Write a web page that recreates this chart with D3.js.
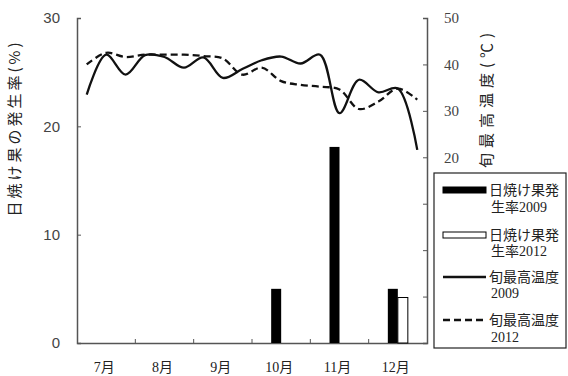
<!DOCTYPE html>
<html>
<head>
<meta charset="utf-8">
<script src="https://cdn.jsdelivr.net/npm/d3@7"></script>
<style>
    body { margin: 0; background: #fff; }
    svg { display: block; }
</style>
</head>
<body>
<div id="chart"></div>
<script>
// Data
const months = ['7月', '8月', '9月', '10月', '11月', '12月'];
const sunburn2009 = [0, 0, 0, 5.0, 18.1, 5.0];
const sunburn2012 = [0, 0, 0, 0, 0, 4.2];

// 旬 (10-day periods), 3 per month
const periods = d3.range(18).map(i => months[Math.floor(i / 3)] + ['上', '中', '下'][i % 3]);
const temp2009 = [33.5, 42.1, 37.8, 42.0, 41.6, 39.3, 41.5, 37.1, 39.0, 40.9, 41.7, 40.2, 42.1, 29.5, 36.7, 34.0, 34.8, 21.6];
const temp2012 = [40.0, 42.5, 41.6, 42.1, 42.1, 42.1, 41.8, 41.3, 37.8, 39.3, 36.4, 35.6, 35.2, 34.6, 30.4, 32.0, 34.8, 32.4];

const leftTicks = [0, 10, 20, 30];
const rightTicks = [-20, -10, 0, 10, 20, 30, 40, 50];

const width = 568, height = 376;
const plot = { left: 77, right: 427, top: 18, bottom: 343 };

const svg = d3.select('#chart').append('svg')
    .attr('width', width)
    .attr('height', height);

// Scales
const x = d3.scaleBand().domain(months).range([plot.left, plot.right]).padding(0);
const xSub = d3.scaleBand().domain(['2009', '2012'])
    .range([x.bandwidth() / 2 - 10, x.bandwidth() / 2 + 10]);
const xp = d3.scalePoint().domain(periods).range([plot.left, plot.right]).padding(0.5);
const y = d3.scaleLinear().domain([0, 30]).range([plot.bottom, plot.top]);
const y2 = d3.scaleLinear().domain([-20, 50]).range([plot.bottom, plot.top]);

const axisColor = '#555';

// Left axis
const gl = svg.append('g')
    .attr('transform', `translate(${plot.left},0)`)
    .call(d3.axisRight(y).tickValues(leftTicks).tickSize(4).tickFormat(''));
gl.select('.domain').attr('stroke', axisColor).attr('stroke-width', 1.5);
gl.selectAll('.tick line').attr('stroke', axisColor);
leftTicks.forEach(t => {
    svg.append('text')
        .attr('x', 60).attr('y', y(t)).attr('dy', '0.35em')
        .attr('text-anchor', 'end')
        .attr('font-family', 'Liberation Sans, sans-serif')
        .attr('font-size', 15).attr('fill', '#444')
        .text(t);
});

// Right axis
const gr = svg.append('g')
    .attr('transform', `translate(${plot.right},0)`)
    .call(d3.axisLeft(y2).tickValues(rightTicks).tickSize(4).tickFormat(''));
gr.select('.domain').attr('stroke', axisColor).attr('stroke-width', 1.5);
gr.selectAll('.tick line').attr('stroke', axisColor);
rightTicks.filter(t => t >= 20).forEach(t => {
    svg.append('text')
        .attr('x', 444).attr('y', y2(t)).attr('dy', '0.35em')
        .attr('text-anchor', 'start')
        .attr('font-family', 'Liberation Serif, serif')
        .attr('font-size', 15).attr('fill', '#444')
        .text(t);
});

// Bottom axis
const gb = svg.append('g')
    .attr('transform', `translate(0,${plot.bottom})`)
    .call(d3.axisTop(x).tickSize(0).tickFormat(''));
gb.select('.domain').attr('stroke', axisColor).attr('stroke-width', 1.5);
// small ticks between months
svg.selectAll('.mtick')
    .data(months.slice(1))
    .enter().append('line')
        .attr('x1', d => x(d)).attr('x2', d => x(d))
        .attr('y1', plot.bottom).attr('y2', plot.bottom - 4)
        .attr('stroke', axisColor);
svg.selectAll('.mlabel')
    .data(months)
    .enter().append('text')
        .attr('x', d => x(d) + x.bandwidth() / 2 - 2)
        .attr('y', 367).attr('dy', '0.35em')
        .attr('text-anchor', 'middle')
        .attr('font-family', 'Liberation Serif, Noto Sans CJK JP, serif')
        .attr('font-size', 14).attr('fill', '#222')
        .text(d => d);

// Axis titles
svg.append('text')
    .attr('transform', 'translate(15,128) rotate(-90)')
    .attr('text-anchor', 'middle').attr('dy', '0.35em')
    .attr('font-family', 'Noto Sans CJK JP, sans-serif')
    .attr('font-size', 15).attr('letter-spacing', 3).attr('fill', '#222')
    .text('日焼け果の発生率(%)');
svg.append('text')
    .attr('transform', 'translate(487,98) rotate(-90)')
    .attr('text-anchor', 'middle').attr('dy', '0.35em')
    .attr('font-family', 'Noto Sans CJK JP, sans-serif')
    .attr('font-size', 15).attr('letter-spacing', 5).attr('fill', '#222')
    .text('旬最高温度(℃)');

// Bars
const barData = [];
months.forEach((m, i) => {
    barData.push({ month: m, year: '2009', value: sunburn2009[i] });
    barData.push({ month: m, year: '2012', value: sunburn2012[i] });
});
svg.selectAll('.bar')
    .data(barData.filter(d => d.value > 0))
    .enter().append('rect')
        .attr('x', d => x(d.month) + xSub(d.year))
        .attr('y', d => y(d.value))
        .attr('width', xSub.bandwidth())
        .attr('height', d => y(0) - y(d.value))
        .attr('fill', d => d.year === '2009' ? '#000' : '#fff')
        .attr('stroke', '#000')
        .attr('stroke-width', d => d.year === '2009' ? 0 : 1);

// Temperature lines
const line = d3.line()
    .x((d, i) => xp(periods[i]))
    .y(d => y2(d))
    .curve(d3.curveCatmullRom.alpha(0.5));

svg.append('path')
    .attr('d', line(temp2009))
    .attr('fill', 'none').attr('stroke', '#111').attr('stroke-width', 2.3);
svg.append('path')
    .attr('d', line(temp2012))
    .attr('fill', 'none').attr('stroke', '#111').attr('stroke-width', 2.3)
    .attr('stroke-dasharray', '7,4');

// Legend
const legend = svg.append('g');
legend.append('rect')
    .attr('x', 434).attr('y', 173).attr('width', 132).attr('height', 175)
    .attr('fill', '#fff').attr('stroke', '#222').attr('stroke-width', 1.2);

const legendItems = [
    { type: 'bar', fill: '#000', lines: ['日焼け果発', '生率2009'], y: 190, y2: 207 },
    { type: 'bar', fill: '#fff', lines: ['日焼け果発', '生率2012'], y: 235, y2: 251 },
    { type: 'line', dash: null, lines: ['旬最高温度', '2009'], y: 277, y2: 293 },
    { type: 'line', dash: '7,4', lines: ['旬最高温度', '2012'], y: 320, y2: 337 }
];
legendItems.forEach(item => {
    if (item.type === 'bar') {
        legend.append('rect')
            .attr('x', 443).attr('y', item.y - 3).attr('width', 43).attr('height', 6)
            .attr('fill', item.fill).attr('stroke', '#000').attr('stroke-width', 1);
    } else {
        legend.append('line')
            .attr('x1', 443).attr('x2', 486).attr('y1', item.y).attr('y2', item.y)
            .attr('stroke', '#111').attr('stroke-width', 2.3)
            .attr('stroke-dasharray', item.dash);
    }
    legend.append('text')
        .attr('x', 489).attr('y', item.y).attr('dy', '0.35em')
        .attr('font-family', 'Liberation Serif, Noto Sans CJK JP, serif')
        .attr('font-size', 14).attr('fill', '#222')
        .text(item.lines[0]);
    legend.append('text')
        .attr('x', 491).attr('y', item.y2).attr('dy', '0.35em')
        .attr('font-family', 'Liberation Serif, Noto Sans CJK JP, serif')
        .attr('font-size', 14).attr('fill', '#222')
        .text(item.lines[1]);
});
</script>
</body>
</html>
